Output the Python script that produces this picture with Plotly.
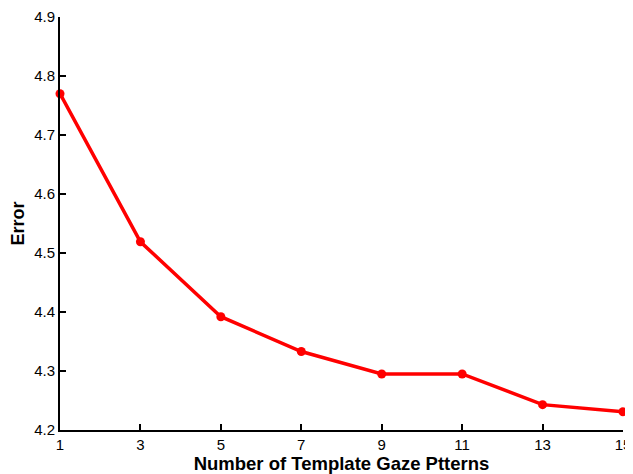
import plotly.graph_objects as go

templates = [1, 3, 5, 7, 9, 11, 13, 15]
error = [4.770, 4.519, 4.392, 4.333, 4.295, 4.295, 4.243, 4.231]
x_ticks = [1, 3, 5, 7, 9, 11, 13, 15]
y_ticks = [4.2, 4.3, 4.4, 4.5, 4.6, 4.7, 4.8, 4.9]

fig = go.Figure(go.Scatter(
    x=templates, y=error, mode="lines+markers",
    line=dict(color="#ff0000", width=3.5),
    marker=dict(color="#ff0000", size=9, symbol="circle"),
    cliponaxis=False,
))

font = dict(family="Liberation Sans, Arial, sans-serif", color="black")
# page body has an 8px margin, so the figure is sized/offset to compensate
fig.update_layout(
    width=625, height=466,
    margin=dict(l=52, r=10, t=9, b=44),
    plot_bgcolor="white", paper_bgcolor="white",
    showlegend=False,
    font=font,
)
fig.update_xaxes(
    range=[1, 15], tickvals=x_ticks, ticktext=[str(v) for v in x_ticks],
    ticks="inside", ticklen=6, tickwidth=2, tickcolor="black",
    showline=True, linecolor="black", linewidth=2, showgrid=False, zeroline=False,
    tickfont=dict(size=15, **font), automargin=False,
    title=dict(text="<b>Number of Template Gaze Ptterns</b>", font=dict(size=18.5, **font), standoff=2),
)
fig.update_yaxes(
    range=[4.2, 4.9], tickvals=y_ticks, ticktext=[f"{v:.1f}" for v in y_ticks],
    ticks="inside", ticklen=6, tickwidth=2, tickcolor="black",
    showline=True, linecolor="black", linewidth=2, showgrid=False, zeroline=False,
    tickfont=dict(size=15, **font), automargin=False,
    title=dict(text="<b>Error</b>", font=dict(size=18, **font), standoff=9),
)
fig.write_html("out.html")
